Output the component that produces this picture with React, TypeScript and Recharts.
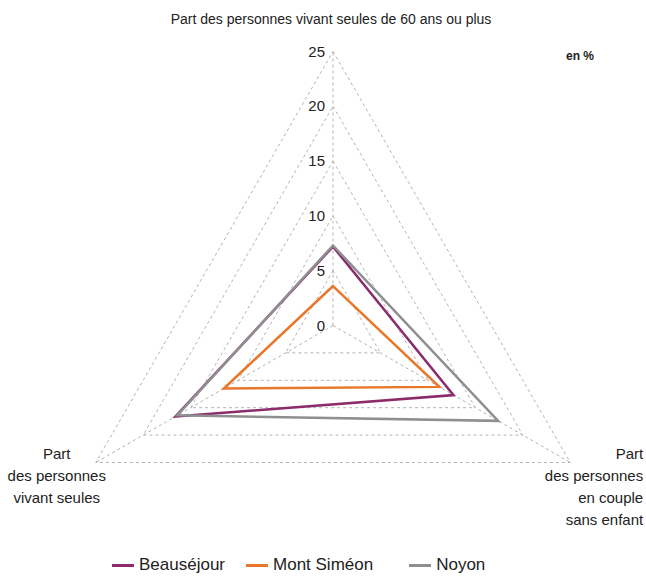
import React from 'react';
import {
  RadarChart,
  Radar,
  PolarGrid,
  PolarAngleAxis,
  PolarRadiusAxis,
  Legend,
} from 'recharts';

// axes, clockwise from the top
const axes = [
  'Part des personnes vivant seules de 60 ans ou plus',
  'Part des personnes en couple sans enfant',
  'Part des personnes vivant seules',
];
const beausejour = [7.2, 12.7, 16.6];
const montSimeon = [3.6, 11.2, 11.5];
const noyon = [7.3, 17.4, 16.4];
const radiusTicks = [0, 5, 10, 15, 20, 25];

const series = [
  { key: 'beausejour', name: 'Beauséjour', color: '#8c2b6c' },
  { key: 'montSimeon', name: 'Mont Siméon', color: '#e8772a' },
  { key: 'noyon', name: 'Noyon', color: '#8f8f93' },
];

const data = axes.map((axis, i) => ({
  axis,
  beausejour: beausejour[i],
  montSimeon: montSimeon[i],
  noyon: noyon[i],
}));

const FONT = '"Liberation Sans", Arial, Helvetica, sans-serif';

const AngleTick = (props: any) => {
  const { x, y, index } = props;
  if (index === 0) {
    return (
      <text x={x - 2} y={y - 20} textAnchor="middle" fontSize={14} fill="#222" fontFamily={FONT}>
        {axes[0]}
      </text>
    );
  }
  const lines =
    index === 1
      ? ['Part', 'des personnes', 'en couple', 'sans enfant']
      : ['Part', 'des personnes', 'vivant seules'];
  const anchor = index === 1 ? 'end' : 'middle';
  const tx = index === 1 ? x + 66 : x - 32;
  return (
    <text x={tx} y={y - 8} textAnchor={anchor} fontSize={15} fill="#222" fontFamily={FONT}>
      {lines.map((l, i) => (
        <tspan key={i} x={tx} dy={i === 0 ? 0 : 22}>
          {l}
        </tspan>
      ))}
    </text>
  );
};

const RadiusTick = (props: any) => {
  const { x, y, payload } = props;
  return (
    <text x={x - 8} y={y + 5} textAnchor="end" fontSize={15} fill="#222" fontFamily={FONT}>
      {payload.value}
    </text>
  );
};

const LegendContent = () => (
  <div style={{ display: 'flex', fontFamily: FONT, fontSize: 17, color: '#222' }}>
    {series.map((s, i) => (
      <div key={s.key} style={{ display: 'flex', alignItems: 'center', marginRight: i === 1 ? 36 : 21 }}>
        <span style={{ display: 'inline-block', width: 22, height: 3, background: s.color, marginRight: 5 }} />
        {s.name}
      </div>
    ))}
  </div>
);

export default function App() {
  return (
    <div style={{ position: 'absolute', left: 0, top: 0, width: 646, height: 577, background: '#fff' }}>
      <RadarChart width={646} height={577} cx={333} cy={325.5} outerRadius={274} data={data}>
        <PolarGrid gridType="polygon" stroke="#b3b3b3" strokeDasharray="3 3" />
        <PolarAngleAxis dataKey="axis" tick={<AngleTick />} tickLine={false} axisLine={false} />
        <PolarRadiusAxis
          angle={90}
          domain={[0, 25]}
          ticks={radiusTicks}
          tick={<RadiusTick />}
          axisLine={false}
          tickLine={false}
        />
        {series.map((s) => (
          <Radar
            key={s.key}
            name={s.name}
            dataKey={s.key}
            stroke={s.color}
            strokeWidth={2.5}
            fill="none"
            fillOpacity={0}
            dot={false}
            isAnimationActive={false}
          />
        ))}
        <Legend
          content={<LegendContent />}
          wrapperStyle={{ position: 'absolute', left: 112, top: 555, width: 440 }}
        />
      </RadarChart>
      <div
        style={{
          position: 'absolute',
          left: 566,
          top: 49,
          fontFamily: FONT,
          fontSize: 12,
          fontWeight: 'bold',
          color: '#222',
        }}
      >
        en %
      </div>
    </div>
  );
}
